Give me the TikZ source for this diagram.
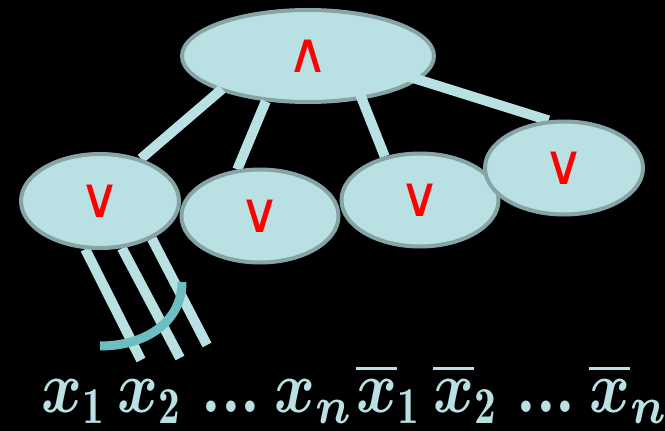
\documentclass[tikz,border=0pt]{standalone}
\usepackage{amsmath, amssymb}
\usepackage{fontspec}
\newfontfamily\opfont{DejaVu Sans}
\usepackage{tikz}
\usetikzlibrary{shapes.geometric, calc}

\definecolor{gatefill}{HTML}{B9E0E3}
\definecolor{gateline}{HTML}{86A3A6}
\definecolor{wirecol}{HTML}{B9E0E3}
\definecolor{arccol}{HTML}{6DBEC3}

\pgfdeclarelayer{back}
\pgfdeclarelayer{upper}
\pgfdeclarelayer{wires}
\pgfsetlayers{back,upper,wires,main}

\tikzset{
	gate/.style = {ellipse, draw = gateline, line width = 4pt, fill = gatefill,
		text = red, inner sep = 0pt, font = \opfont\fontsize{56}{56}\selectfont},
	wire/.style = {draw = wirecol, line width = 10pt},
	lit/.style = {text = gatefill, anchor = base, inner sep = 0pt, xscale = 6.2, yscale = 7.4},
}

\begin{document}
\begin{tikzpicture}[x = 1pt, y = -1pt]
	\useasboundingbox (0,0) rectangle (665,431);

	\begin{pgfonlayer}{back}
		\fill [black] (0,0) rectangle (665,431);
	\end{pgfonlayer}

	% output gate sits under its wires
	\begin{pgfonlayer}{upper}
		\node [gate, minimum width = 252pt, minimum height = 92pt] (and) at (308,56) {∧};
	\end{pgfonlayer}

	\node [gate, minimum width = 158pt, minimum height = 94pt] (or1) at (100,201) {∨};
	\node [gate, minimum width = 157pt, minimum height = 93pt] (or2) at (260,216) {∨};
	\node [gate, minimum width = 157pt, minimum height = 93pt] (or3) at (420,200) {∨};
	\node [gate, minimum width = 158pt, minimum height = 93pt] (or4) at (564,168) {∨};

	\begin{pgfonlayer}{wires}
		\draw [wire] ($(and.center)!0.96!(and.201)$) -- (or1.46);
		\draw [wire] (and.227) -- (or2.116);
		\draw [wire] ($(and.center)!0.81!(and.326)$) -- (or3.129);
		\draw [wire] ($(and.center)!0.69!(and.350)$) -- (or4.108);

		% inputs of the first clause
		\coordinate (in1) at (141,360);
		\coordinate (in2) at (180,358);
		\coordinate (in3) at (207,345);
		\draw [wire] (or1.253) -- (in1);
		\draw [wire] (or1.295) -- (in2);
		\draw [wire] (or1.324) -- (in3);
	\end{pgfonlayer}

	\coordinate (arcA) at (100,346);
	\coordinate (arcB) at (182,282);
	\draw [arccol, line width = 9pt] (arcA) .. controls (148,346) and (182,320) .. (arcB);

	% literals
	\node [lit] (x1) at (74,412) {$\boldsymbol{x}_{\mathbf{1}}$};
	\node [lit] (x2) at (150,412) {$\boldsymbol{x}_{\mathbf{2}}$};
	\node [lit] (xdots) at (231,412) {$\boldsymbol{...}$};
	\node [lit] (xn) at (314,412) {$\boldsymbol{x}_{\boldsymbol{n}}$};
	\node [lit] (nx1) at (389,412) {$\overline{\boldsymbol{x}}_{\mathbf{1}}$};
	\node [lit] (nx2) at (466,412) {$\overline{\boldsymbol{x}}_{\mathbf{2}}$};
	\node [lit] (nxdots) at (546,412) {$\boldsymbol{...}$};
	\node [lit] (nxn) at (629,412) {$\overline{\boldsymbol{x}}_{\boldsymbol{n}}$};
\end{tikzpicture}
\end{document}
